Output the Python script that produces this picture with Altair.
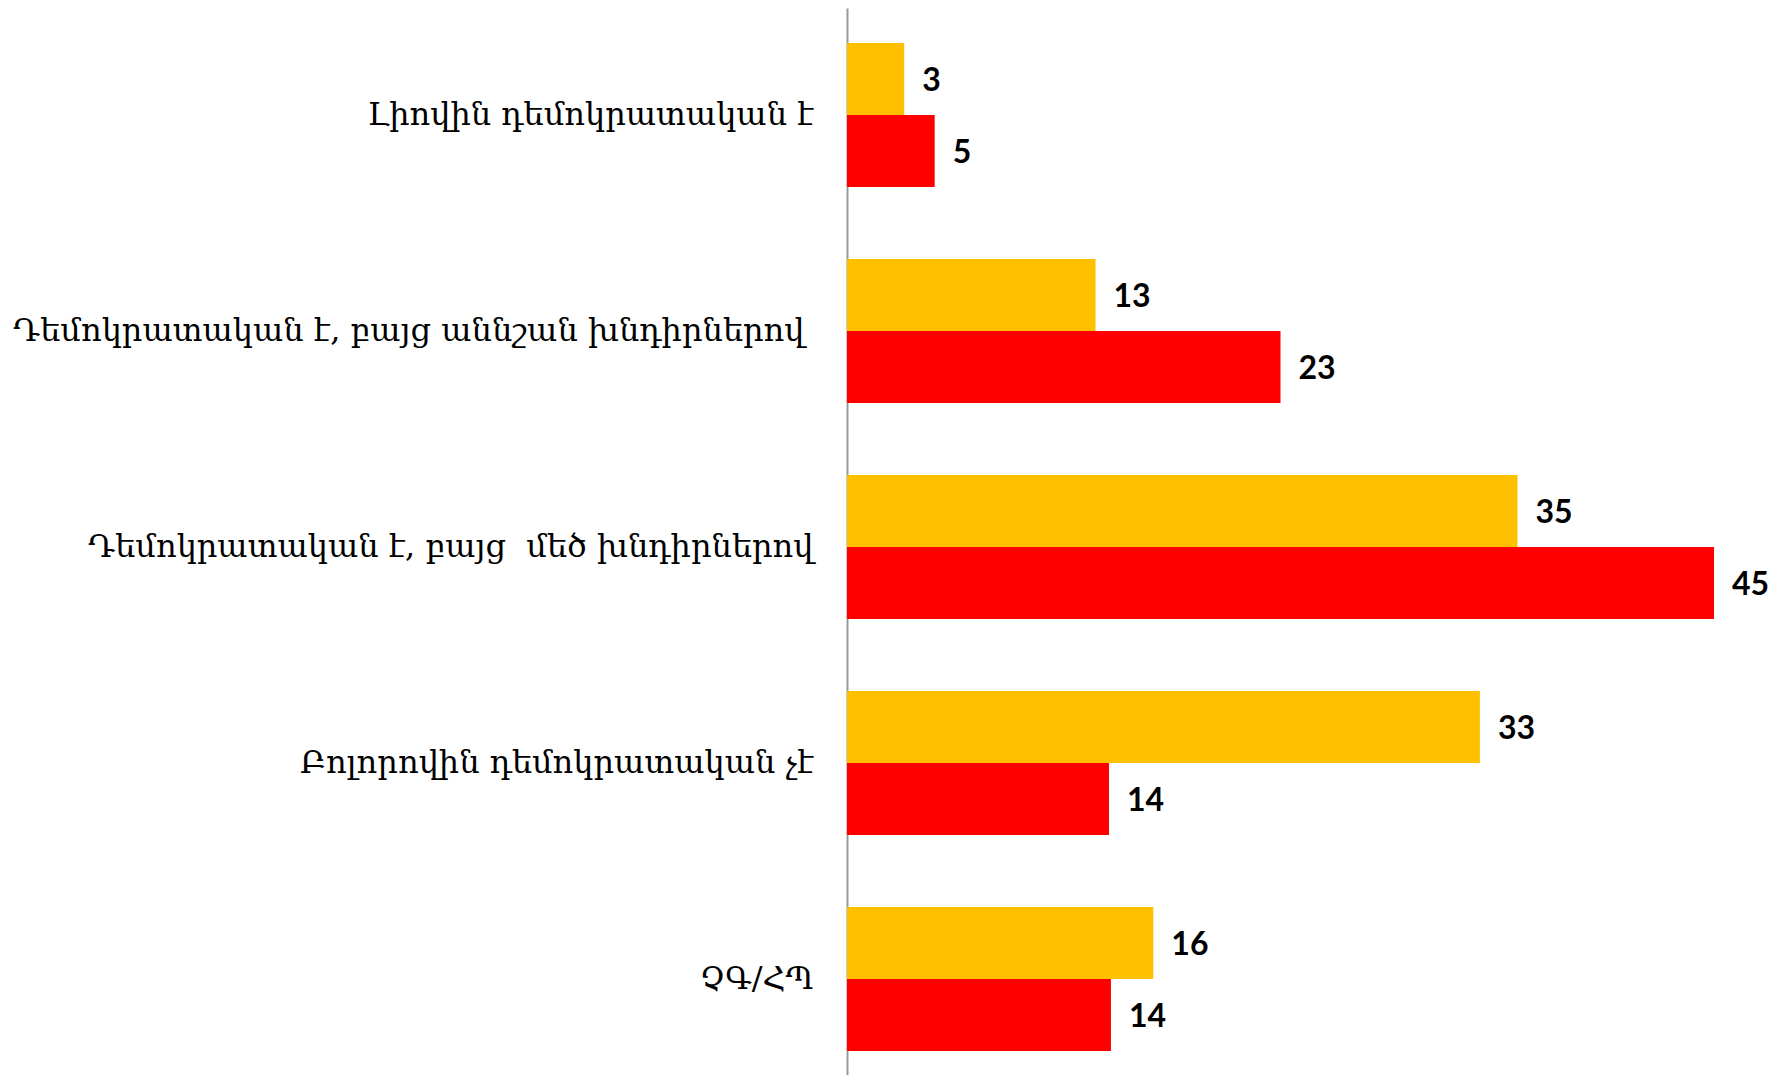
import altair as alt
import pandas as pd

categories = [
    "Լիովին դեմոկրատական է",
    "Դեմոկրատական է, բայց աննշան խնդիրներով ",
    "Դեմոկրատական է, բայց\u00a0 մեծ խնդիրներով",
    "Բոլորովին դեմոկրատական չէ",
    "ՉԳ/ՀՊ",
]
series_names = ["Շարք 1", "Շարք 2"]
series_1 = [2.97, 12.9, 34.8, 32.85, 15.9]
series_2 = [4.55, 22.5, 45.0, 13.6, 13.7]
colors = ["#FFC000", "#FF0000"]

rows = []
for c, v1, v2 in zip(categories, series_1, series_2):
    rows.append({"category": c, "series": series_names[0], "value": v1})
    rows.append({"category": c, "series": series_names[1], "value": v2})
df = pd.DataFrame(rows)

y_enc = alt.Y(
    "category:N",
    sort=categories,
    title=None,
    scale=alt.Scale(paddingInner=1 / 3, paddingOuter=0.1366, align=0.593),
    axis=alt.Axis(
        ticks=False,
        labelFont="DejaVu Serif",
        labelFontSize=32,
        labelColor="#000000",
        # the label with a trailing space sits a little further from the axis
        labelPadding={"condition": {"test": "slice(datum.value, -1) === ' '", "value": 43}, "value": 34},
        labelLimit=1000,
        domainColor="#999999",
        domainWidth=2,
        labelBaseline="middle",
    ),
)
yoff = alt.YOffset("series:N", sort=series_names, scale=alt.Scale(paddingInner=0, paddingOuter=0))
x_enc = alt.X(
    "value:Q",
    scale=alt.Scale(domain=[0, 45], nice=False, zero=True),
    axis=None,
)

bars = alt.Chart(df).mark_bar().encode(
    y=y_enc,
    yOffset=yoff,
    x=x_enc,
    color=alt.Color("series:N", sort=series_names,
                    scale=alt.Scale(domain=series_names, range=colors), legend=None),
)

labels = alt.Chart(df).mark_text(
    align="left", baseline="middle", dx=18, dy=2, font="Lato", fontSize=32, fontWeight="bold", color="#000000"
).encode(
    y=alt.Y("category:N", sort=categories),
    yOffset=alt.YOffset("series:N", sort=series_names),
    x=alt.X("value:Q"),
    text=alt.Text("value:Q", format=".0f"),
)

chart = (
    alt.layer(bars, labels)
    .properties(
        width=867,
        height=1067,
        autosize=alt.AutoSizeParams(type="none"),
        padding={"left": 839, "top": 0, "right": 60, "bottom": 0},
        background="#ffffff",
    )
    .configure_view(stroke=None)
)

chart.save("out.html", embed_options={"renderer": "svg", "actions": False})
